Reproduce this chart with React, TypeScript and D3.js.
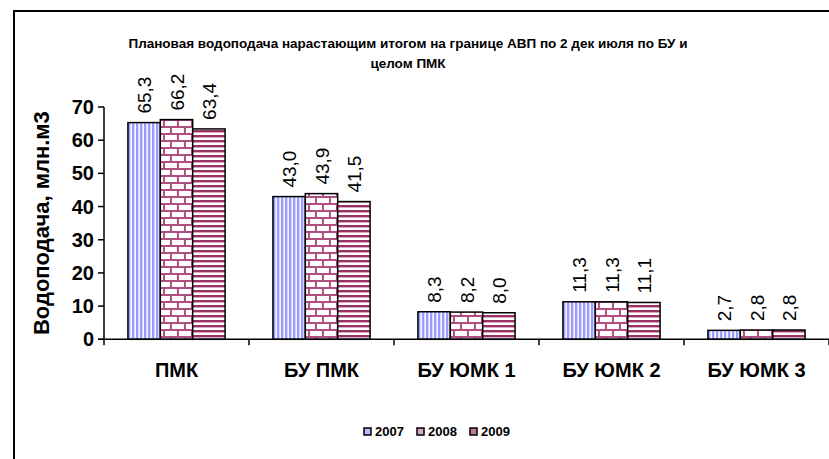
import React, { useEffect, useRef } from 'react';
import * as d3 from 'd3';

const categories = ['ПМК', 'БУ ПМК', 'БУ ЮМК 1', 'БУ ЮМК 2', 'БУ ЮМК 3'];
const years = ['2007', '2008', '2009'];
const values2007 = [65.3, 43.0, 8.3, 11.3, 2.7];
const values2008 = [66.2, 43.9, 8.2, 11.3, 2.8];
const values2009 = [63.4, 41.5, 8.0, 11.1, 2.8];
const yTicks = [0, 10, 20, 30, 40, 50, 60, 70];

const titleLines = [
    'Плановая водоподача нарастающим итогом на границе АВП по 2 дек июля по БУ и',
    'целом ПМК',
];
const yTitle = 'Водоподача, млн.м3';

const W = 829;
const H = 459;
const font = '"Liberation Sans", Arial, sans-serif';

const App = () => {
    const ref = useRef(null);

    useEffect(() => {
        const svg = d3.select(ref.current);
        svg.selectAll('*').remove();

        const series = [values2007, values2008, values2009];
        const margin = { left: 104, right: 0, top: 107, bottom: 119 };

        const x0 = d3.scaleBand()
            .domain(categories)
            .range([margin.left, W])
            .paddingInner(0.33)
            .paddingOuter(0.165);
        const x1 = d3.scaleBand()
            .domain(years)
            .range([0, x0.bandwidth()]);
        const y = d3.scaleLinear()
            .domain([0, 70])
            .range([H - margin.bottom - 0.7, margin.top]);

        // patterns
        const defs = svg.append('defs');
        const p1 = defs.append('pattern').attr('id', 'pat2007')
            .attr('patternUnits', 'userSpaceOnUse').attr('width', 4).attr('height', 4);
        p1.append('rect').attr('width', 4).attr('height', 4).attr('fill', '#ffffff');
        p1.append('rect').attr('x', 0).attr('width', 2).attr('height', 4).attr('fill', '#9999ff');
        p1.append('rect').attr('x', 2).attr('width', 1).attr('height', 4).attr('fill', '#d4d4ff');

        const p2 = defs.append('pattern').attr('id', 'pat2008')
            .attr('patternUnits', 'userSpaceOnUse').attr('width', 14).attr('height', 14);
        p2.append('rect').attr('width', 14).attr('height', 14).attr('fill', '#ffffff');
        p2.append('rect').attr('y', 0).attr('width', 14).attr('height', 2).attr('fill', '#b04e80');
        p2.append('rect').attr('y', 7).attr('width', 14).attr('height', 2).attr('fill', '#b04e80');
        p2.append('rect').attr('x', 0).attr('y', 0).attr('width', 2).attr('height', 7).attr('fill', '#b04e80');
        p2.append('rect').attr('x', 7).attr('y', 7).attr('width', 2).attr('height', 7).attr('fill', '#b04e80');

        const p3 = defs.append('pattern').attr('id', 'pat2009')
            .attr('patternUnits', 'userSpaceOnUse').attr('width', 5).attr('height', 5);
        p3.append('rect').attr('width', 5).attr('height', 5).attr('fill', '#ffffff');
        p3.append('rect').attr('y', 0).attr('width', 5).attr('height', 2).attr('fill', '#993366');
        p3.append('rect').attr('y', 2).attr('width', 5).attr('height', 1).attr('fill', '#d9a6bf');

        const fills = ['url(#pat2007)', 'url(#pat2008)', 'url(#pat2009)'];
        const swatch = ['#b8b8ff', '#d9a6bf', '#c27a9e'];

        // outer frame
        svg.append('rect')
            .attr('x', 14).attr('y', 11)
            .attr('width', W + 20).attr('height', H + 20)
            .attr('fill', 'none').attr('stroke', '#000').attr('stroke-width', 2);

        // title
        svg.append('g').selectAll('text').data(titleLines).enter()
            .append('text')
            .attr('x', 408)
            .attr('y', (d, i) => 48 + i * 20)
            .attr('text-anchor', 'middle')
            .style('font-family', font)
            .style('font-size', '13.5px')
            .style('font-weight', 'bold')
            .text(d => d);

        // bars
        const groups = svg.append('g').selectAll('g.cat').data(categories).enter()
            .append('g')
            .attr('class', 'cat')
            .attr('transform', d => `translate(${x0(d)},0)`);

        years.forEach((yr, si) => {
            groups.append('rect')
                .attr('x', x1(yr))
                .attr('y', (d, ci) => y(series[si][ci]))
                .attr('width', x1.bandwidth())
                .attr('height', (d, ci) => y(0) - y(series[si][ci]))
                .attr('fill', fills[si])
                .attr('stroke', '#000')
                .attr('stroke-width', 1.5);

            groups.append('text')
                .attr('transform', (d, ci) =>
                    `translate(${x1(yr) + x1.bandwidth() / 2 + 7},${y(series[si][ci]) - 9}) rotate(-90)`)
                .attr('text-anchor', 'start')
                .style('font-family', font)
                .style('font-size', '19px')
                .text((d, ci) => d3.format('.1f')(series[si][ci]).replace('.', ','));
        });

        // y axis
        const yAxis = svg.append('g');
        yAxis.append('line')
            .attr('x1', margin.left).attr('x2', margin.left)
            .attr('y1', y(70)).attr('y2', y(0))
            .attr('stroke', '#000').attr('stroke-width', 1.5);
        yAxis.selectAll('line.tick').data(yTicks).enter()
            .append('line')
            .attr('class', 'tick')
            .attr('x1', margin.left - 6).attr('x2', margin.left)
            .attr('y1', d => y(d)).attr('y2', d => y(d))
            .attr('stroke', '#000').attr('stroke-width', 1.5);
        yAxis.selectAll('text').data(yTicks).enter()
            .append('text')
            .attr('x', margin.left - 10)
            .attr('y', d => y(d) + 7)
            .attr('text-anchor', 'end')
            .style('font-family', font)
            .style('font-size', '20px')
            .style('font-weight', 'bold')
            .text(d => d);

        svg.append('text')
            .attr('transform', `translate(49,${(y(0) + y(70)) / 2}) rotate(-90)`)
            .attr('text-anchor', 'middle')
            .style('font-family', font)
            .style('font-size', '22px')
            .style('font-weight', 'bold')
            .text(yTitle);

        // x axis
        const xAxis = svg.append('g');
        xAxis.append('line')
            .attr('x1', margin.left - 6).attr('x2', W)
            .attr('y1', y(0)).attr('y2', y(0))
            .attr('stroke', '#000').attr('stroke-width', 1.5);
        const step = x0.step();
        xAxis.selectAll('line.tick').data(d3.range(categories.length + 1)).enter()
            .append('line')
            .attr('class', 'tick')
            .attr('x1', i => margin.left + i * step).attr('x2', i => margin.left + i * step)
            .attr('y1', y(0)).attr('y2', y(0) + 6)
            .attr('stroke', '#000').attr('stroke-width', 1.5);
        xAxis.selectAll('text').data(categories).enter()
            .append('text')
            .attr('x', d => x0(d) + x0.bandwidth() / 2)
            .attr('y', y(0) + 38)
            .attr('text-anchor', 'middle')
            .style('font-family', font)
            .style('font-size', '20px')
            .style('font-weight', 'bold')
            .text(d => d);

        // legend
        const legend = svg.append('g').attr('transform', 'translate(364,432)');
        const lItems = legend.selectAll('g').data(years).enter()
            .append('g')
            .attr('transform', (d, i) => `translate(${i * 53},0)`);
        lItems.append('rect')
            .attr('x', 0).attr('y', -4)
            .attr('width', 7).attr('height', 7)
            .attr('fill', (d, i) => swatch[i])
            .attr('stroke', '#000').attr('stroke-width', 1.5);
        lItems.append('text')
            .attr('x', 11).attr('y', 4)
            .style('font-family', font)
            .style('font-size', '13px')
            .style('font-weight', 'bold')
            .text(d => d);
    }, []);

    return (
        <svg ref={ref} width={W} height={H}
             style={{ position: 'absolute', left: 0, top: 0, background: '#fff' }} />
    );
};

export default App;
